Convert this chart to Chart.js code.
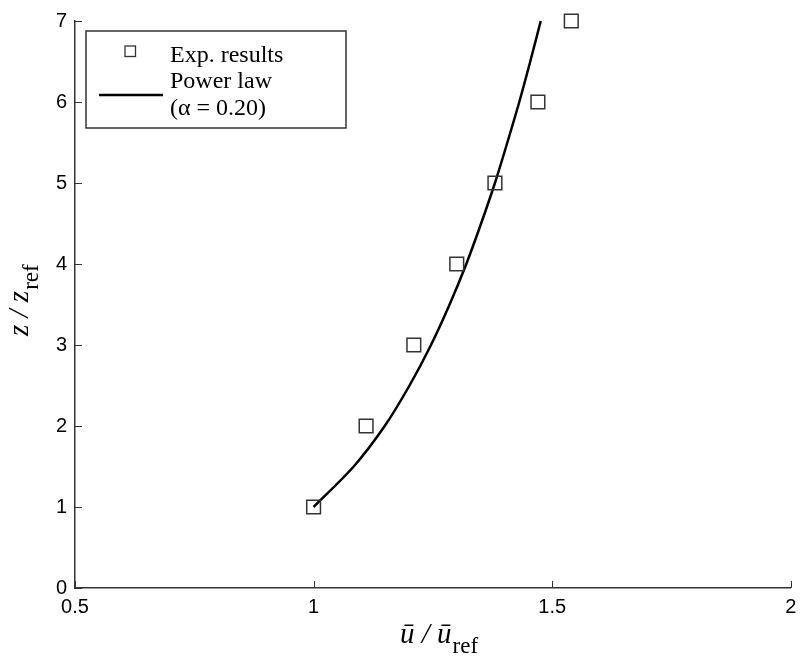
<!DOCTYPE html>
<html>
<head>
<meta charset="utf-8">
<script src="https://cdn.jsdelivr.net/npm/chart.js@4.4.0/dist/chart.umd.min.js"></script>
<style>
    html, body { margin: 0; padding: 0; background: #ffffff; }
    #wrap { width: 802px; height: 657px; }
</style>
</head>
<body>
<div id="wrap"><canvas id="profileChart" width="802" height="657"></canvas></div>
<script>
// Experimental points (u/uref, z/zref)
const expU = [1.00, 1.11, 1.21, 1.30, 1.38, 1.47, 1.54];
const expZ = [1, 2, 3, 4, 5, 6, 7];

// Power law curve
const lawZ = [1, 1.5, 2, 2.5, 3, 3.5, 4, 4.5, 5, 5.5, 6, 6.5, 7];
const lawU = [1.000, 1.084, 1.149, 1.201, 1.246, 1.285, 1.320, 1.351, 1.380, 1.406, 1.431, 1.454, 1.476];

// Tick labels
const xTicks = [0.5, 1, 1.5, 2];
const yTicks = [0, 1, 2, 3, 4, 5, 6, 7];

const legendLabels = ['Exp. results', 'Power law', '(\u03b1 = 0.20)'];

const serif = '"Liberation Serif", "Times New Roman", serif';
const sans = '"Liberation Sans", Arial, Helvetica, sans-serif';
const axisGrey = '#333333';

// draws "a / a" + subscript along the current x direction
function drawRatioTitle(ctx, sym) {
    ctx.font = 'italic 29px ' + serif;
    const main = sym + ' / ' + sym;
    ctx.fillText(main, 0, 0);
    const w = ctx.measureText(main).width;
    ctx.font = '23px ' + serif;
    ctx.fillText('ref', w + 1, 10);
}

// inward ticks, axis titles with subscripts, boxed legend
const decorPlugin = {
    id: 'decor',
    afterDraw(chart) {
        const ctx = chart.ctx;
        const xs = chart.scales.x;
        const ys = chart.scales.y;
        const area = chart.chartArea;

        ctx.save();
        ctx.strokeStyle = axisGrey;
        ctx.lineWidth = 1;
        xTicks.forEach(v => {
            const px = Math.round(xs.getPixelForValue(v)) + 0.5;
            ctx.beginPath();
            ctx.moveTo(px, area.bottom);
            ctx.lineTo(px, area.bottom - 7);
            ctx.stroke();
        });
        yTicks.forEach(v => {
            const py = Math.round(ys.getPixelForValue(v)) + 0.5;
            ctx.beginPath();
            ctx.moveTo(area.left, py);
            ctx.lineTo(area.left + 7, py);
            ctx.stroke();
        });

        ctx.fillStyle = '#000';
        ctx.textBaseline = 'alphabetic';
        ctx.textAlign = 'left';

        // x title: u-bar / u-bar_ref
        ctx.save();
        ctx.translate(400, 643);
        drawRatioTitle(ctx, '\u016b');
        ctx.restore();

        // y title: z / z_ref (rotated)
        ctx.save();
        ctx.translate(28, 336);
        ctx.rotate(-Math.PI / 2);
        drawRatioTitle(ctx, 'z');
        ctx.restore();

        // legend
        ctx.fillStyle = '#fff';
        ctx.fillRect(86, 31, 260, 97);
        ctx.strokeStyle = axisGrey;
        ctx.lineWidth = 1.5;
        ctx.strokeRect(86, 31, 260, 97);

        ctx.lineWidth = 1.3;
        ctx.strokeRect(125, 46, 10.5, 10.5);

        ctx.strokeStyle = '#000';
        ctx.lineWidth = 2.5;
        ctx.beginPath();
        ctx.moveTo(99, 95);
        ctx.lineTo(163, 95);
        ctx.stroke();

        ctx.fillStyle = '#000';
        ctx.font = '24px ' + serif;
        ctx.fillText(legendLabels[0], 170, 62);
        ctx.fillText(legendLabels[1], 170, 88);
        ctx.fillText(legendLabels[2], 170, 115);
        ctx.restore();
    }
};

const chart = new Chart(document.getElementById('profileChart').getContext('2d'), {
    type: 'scatter',
    data: {
        datasets: [
            {
                label: 'Power law',
                data: lawU.map((u, i) => ({ x: u, y: lawZ[i] })),
                showLine: true,
                borderColor: '#000000',
                borderWidth: 2.5,
                pointRadius: 0,
                tension: 0.3,
                fill: false,
                clip: false,
                order: 2
            },
            {
                label: 'Exp. results',
                data: expU.map((u, i) => ({ x: u, y: expZ[i] })),
                pointStyle: 'rect',
                pointRadius: 9.7,
                borderColor: axisGrey,
                borderWidth: 1.5,
                backgroundColor: 'rgba(0,0,0,0)',
                clip: false,
                order: 1
            }
        ]
    },
    options: {
        responsive: false,
        animation: false,
        layout: {
            padding: { top: 21, right: 4, left: 0, bottom: 0 }
        },
        plugins: {
            legend: { display: false },
            tooltip: { enabled: false }
        },
        scales: {
            x: {
                type: 'linear',
                min: 0.5,
                max: 2,
                afterBuildTicks: s => { s.ticks = xTicks.map(v => ({ value: v })); },
                afterFit: s => { s.height = 69; s.paddingLeft = 0; s.paddingRight = 0; },
                ticks: {
                    color: '#000',
                    font: { family: sans, size: 20 },
                    padding: 7,
                    maxRotation: 0,
                    callback: v => String(v)
                },
                grid: { display: true, drawOnChartArea: false, drawTicks: false, color: 'rgba(0,0,0,0)' },
                border: { display: true, color: axisGrey, width: 1.5 }
            },
            y: {
                type: 'linear',
                min: 0,
                max: 7,
                afterBuildTicks: s => { s.ticks = yTicks.map(v => ({ value: v })); },
                afterFit: s => { s.width = 75; s.paddingTop = 0; s.paddingBottom = 0; },
                ticks: {
                    color: '#000',
                    font: { family: sans, size: 20 },
                    padding: 8,
                    callback: v => String(v)
                },
                grid: { display: true, drawOnChartArea: false, drawTicks: false, color: 'rgba(0,0,0,0)' },
                border: { display: true, color: axisGrey, width: 1.5 }
            }
        }
    },
    plugins: [decorPlugin]
});
</script>
</body>
</html>
